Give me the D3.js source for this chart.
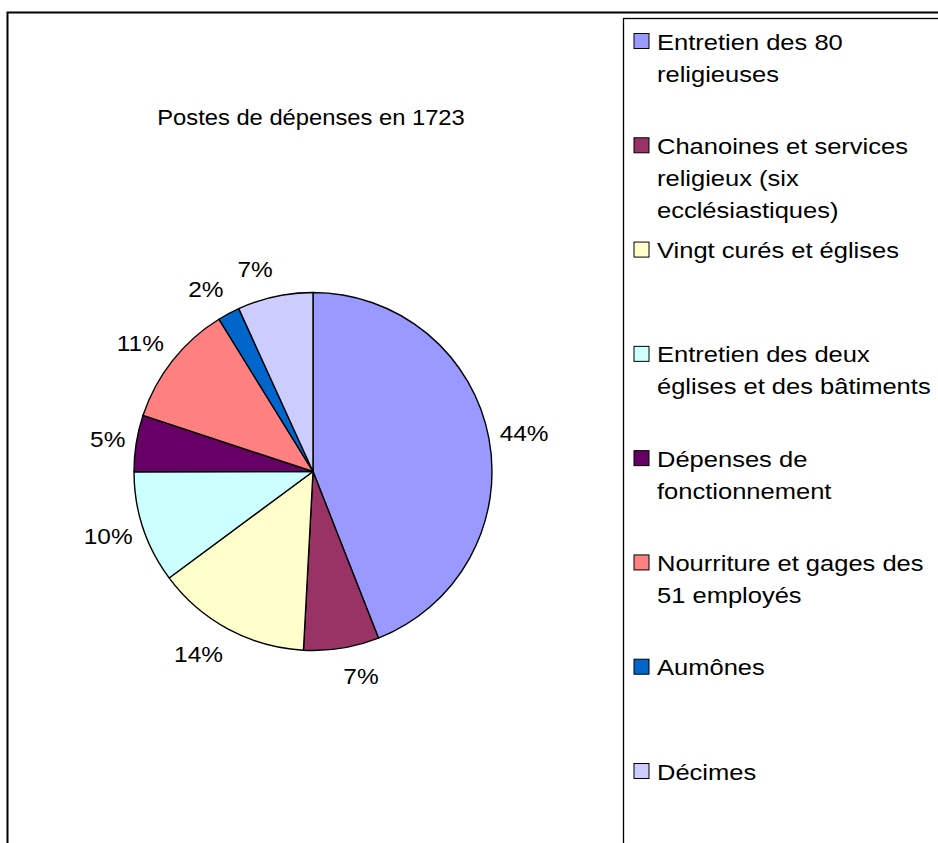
<!DOCTYPE html>
<html>
<head>
<meta charset="utf-8">
<script src="https://cdn.jsdelivr.net/npm/d3@7"></script>
<style>
  body { margin: 0; background: #fff; }
  text { font-family: "Liberation Sans", Arial, sans-serif; fill: #000; }
</style>
</head>
<body>
<svg width="938" height="843"></svg>
<script>
var title = 'Postes de dépenses en 1723'

var categories = [
  'Entretien des 80 religieuses',
  'Chanoines et services religieux (six ecclésiastiques)',
  'Vingt curés et églises',
  'Entretien des deux églises et des bâtiments',
  'Dépenses de fonctionnement',
  'Nourriture et gages des 51 employés',
  'Aumônes',
  'Décimes'
]

// legend wraps as in the picture
var legendLines = [
  ['Entretien des 80', 'religieuses'],
  ['Chanoines et services', 'religieux (six', 'ecclésiastiques)'],
  ['Vingt curés et églises'],
  ['Entretien des deux', 'églises et des bâtiments'],
  ['Dépenses de', 'fonctionnement'],
  ['Nourriture et gages des', '51 employés'],
  ['Aumônes'],
  ['Décimes']
]

// share of spending
var values = [44.0, 6.8, 14.0, 10.1, 5.1, 11.1, 2.0, 6.8]

var colors = ['#9999FF', '#993366', '#FFFFCC', '#CCFFFF', '#660066', '#FF8080', '#0066CC', '#CCCCFF']

var svg = d3.select('svg')

// the source font is a bit wider than Liberation Sans, so stretch it sideways
function stretched (node, x, y, str, anchor, sx) {
  return node.append('text')
    .attr('transform', 'translate(' + x + ',' + y + ') scale(' + sx + ',1)')
    .attr('text-anchor', anchor || 'start')
    .style('font-size', '22px')
    .text(str)
}

// outer chart border and legend box
svg.append('rect')
  .attr('x', 7.5).attr('y', 12.5)
  .attr('width', 960).attr('height', 860)
  .attr('fill', '#fff')
  .attr('stroke', '#000').attr('stroke-width', 2)

svg.append('rect')
  .attr('x', 623.5).attr('y', 18.5)
  .attr('width', 340).attr('height', 860)
  .attr('fill', '#fff')
  .attr('stroke', '#000').attr('stroke-width', 1.3)

stretched(svg, 311, 125, title, 'middle', 1.08)

// pie
var cx = 313
var cy = 471.5
var r = 179
var total = d3.sum(values)

var pie = d3.pie().sort(null).value(function (d) { return d })
var arcs = pie(values)
var arc = d3.arc().innerRadius(0).outerRadius(r)
// labels: x edge taken a little outside the rim, y centre a bit further out
var edgeArc = d3.arc().innerRadius(r + 11).outerRadius(r + 11)
var midArc = d3.arc().innerRadius(r + 28).outerRadius(r + 28)

var pieG = svg.append('g').attr('transform', 'translate(' + cx + ',' + cy + ')')

pieG.selectAll('path')
  .data(arcs)
  .enter().append('path')
  .attr('d', arc)
  .attr('fill', function (d, i) { return colors[i] })
  .attr('stroke', '#000')
  .attr('stroke-width', 1.4)
  .attr('stroke-linejoin', 'round')

arcs.forEach(function (d) {
  var x = edgeArc.centroid(d)[0]
  var y = midArc.centroid(d)[1]
  var anchor = x >= 0 ? 'start' : 'end'
  stretched(pieG, x, y + 8, Math.round(d.value / total * 100) + '%', anchor, 1.11)
})

// legend
var ly = d3.scalePoint().domain(categories).range([49.5, 779.5])
var legendG = svg.append('g')

categories.forEach(function (c, i) {
  var y = ly(c)
  legendG.append('rect')
    .attr('x', 634).attr('y', y - 16)
    .attr('width', 15).attr('height', 15)
    .attr('fill', colors[i])
    .attr('stroke', '#000').attr('stroke-width', 1)
  legendLines[i].forEach(function (line, j) {
    stretched(legendG, 657, y + j * 32, line, 'start', 1.16)
  })
})
</script>
</body>
</html>
